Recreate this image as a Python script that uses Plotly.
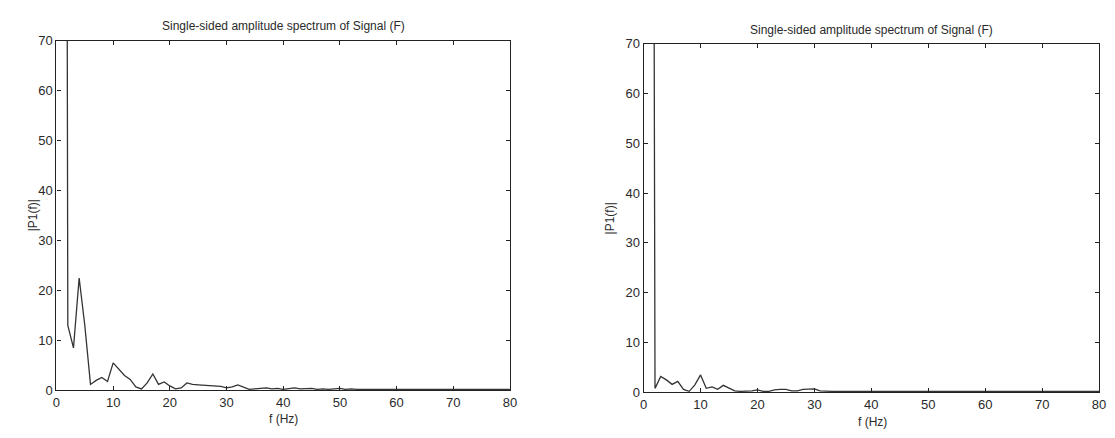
import plotly.graph_objects as go

# ---- data ----
freq = list(range(0, 81))

amp_left = [300, 600, 13, 8.5, 22.5, 13, 1.2, 2.0, 2.6, 1.8,
            5.5, 4.3, 3.0, 2.2, 0.7, 0.3, 1.5, 3.3, 1.2, 1.7,
            0.9, 0.3, 0.5, 1.5, 1.2, 1.1, 1.0, 0.9, 0.8, 0.8,
            0.5, 0.7, 1.1, 0.6, 0.2, 0.3, 0.4, 0.5, 0.3, 0.4,
            0.2, 0.4, 0.5, 0.3, 0.3, 0.4, 0.2, 0.3, 0.2, 0.3,
            0.4, 0.2, 0.3, 0.2, 0.2, 0.3, 0.2, 0.2, 0.3, 0.2,
            0.2, 0.3, 0.2, 0.2, 0.2, 0.3, 0.2, 0.2, 0.2, 0.2,
            0.3, 0.2, 0.2, 0.2, 0.2, 0.2, 0.2, 0.2, 0.2, 0.2, 0.2]

amp_right = [300, 480, 0.8, 3.2, 2.5, 1.6, 2.2, 0.6, 0.2, 1.5,
             3.5, 0.8, 1.1, 0.6, 1.4, 0.9, 0.3, 0.2, 0.2, 0.3,
             0.5, 0.2, 0.2, 0.5, 0.6, 0.6, 0.3, 0.3, 0.6, 0.6,
             0.7, 0.3, 0.2, 0.2, 0.2, 0.2, 0.2, 0.3, 0.2, 0.2,
             0.2, 0.2, 0.2, 0.2, 0.3, 0.3, 0.2, 0.2, 0.2, 0.2,
             0.2, 0.2, 0.2, 0.2, 0.2, 0.2, 0.2, 0.2, 0.2, 0.2,
             0.2, 0.2, 0.2, 0.2, 0.2, 0.2, 0.2, 0.2, 0.2, 0.2,
             0.2, 0.2, 0.2, 0.2, 0.2, 0.2, 0.2, 0.2, 0.2, 0.2, 0.2]

title_text = "Single-sided amplitude spectrum of Signal (F)"
xlabel = "f (Hz)"
ylabel = "|P1(f)|"
x_ticks = [0, 10, 20, 30, 40, 50, 60, 70, 80]
y_ticks = [0, 10, 20, 30, 40, 50, 60, 70]

W, H = 1115, 438
FONT = "Liberation Sans, Arial, sans-serif"
TXT = "#2a2a2a"
LINE = "#333333"

fig = go.Figure()
fig.add_trace(go.Scatter(x=freq, y=amp_left, mode="lines",
                         line=dict(color=LINE, width=1.3),
                         xaxis="x", yaxis="y", showlegend=False, cliponaxis=True))
fig.add_trace(go.Scatter(x=freq, y=amp_right, mode="lines",
                         line=dict(color=LINE, width=1.3),
                         xaxis="x2", yaxis="y2", showlegend=False, cliponaxis=True))

def px_x(p):
    return p / W

def px_y(p):
    return 1 - p / H

common_x = dict(range=[0, 80], tickvals=x_ticks, ticks="inside", ticklen=4,
                tickcolor="#222", showline=True, linecolor="#222", linewidth=1.3,
                mirror="allticks", showgrid=False, zeroline=False,
                tickfont=dict(family=FONT, size=13, color=TXT))
common_y = dict(range=[0, 70], tickvals=y_ticks, ticks="inside", ticklen=4,
                tickcolor="#222", showline=True, linecolor="#222", linewidth=1.3,
                mirror="allticks", showgrid=False, zeroline=False,
                tickfont=dict(family=FONT, size=13, color=TXT))

fig.update_layout(
    width=W, height=H,
    margin=dict(l=0, r=0, t=0, b=0),
    paper_bgcolor="white", plot_bgcolor="white",
    xaxis=dict(domain=[px_x(53), px_x(511)], anchor="y", **common_x),
    yaxis=dict(domain=[px_y(397), px_y(35)], anchor="x", **common_y),
    xaxis2=dict(domain=[px_x(646), px_x(1106)], anchor="y2", **common_x),
    yaxis2=dict(domain=[px_y(399), px_y(38)], anchor="x2", **common_y),
)

annots = [
    (282, 20, title_text, 0),
    (876, 24, title_text, 0),
    (282, 427, xlabel, 0),
    (877, 430, xlabel, 0),
    (29, 216, ylabel, -90),
    (612, 219, ylabel, -90),
]
for x, y, t, ang in annots:
    fig.add_annotation(x=px_x(x), y=px_y(y), xref="paper", yref="paper",
                       text=t, showarrow=False, textangle=ang,
                       xanchor="center", yanchor="middle",
                       font=dict(family=FONT, size=12, color=TXT))

fig.write_html("out.html", config={"displayModeBar": False})

# remove default page margins so the figure sits at (0, 0)
with open("out.html", "r", encoding="utf-8") as f:
    html = f.read()
html = html.replace("<head>", "<head><style>html,body{margin:0;padding:0;overflow:hidden;}</style>", 1)
with open("out.html", "w", encoding="utf-8") as f:
    f.write(html)
